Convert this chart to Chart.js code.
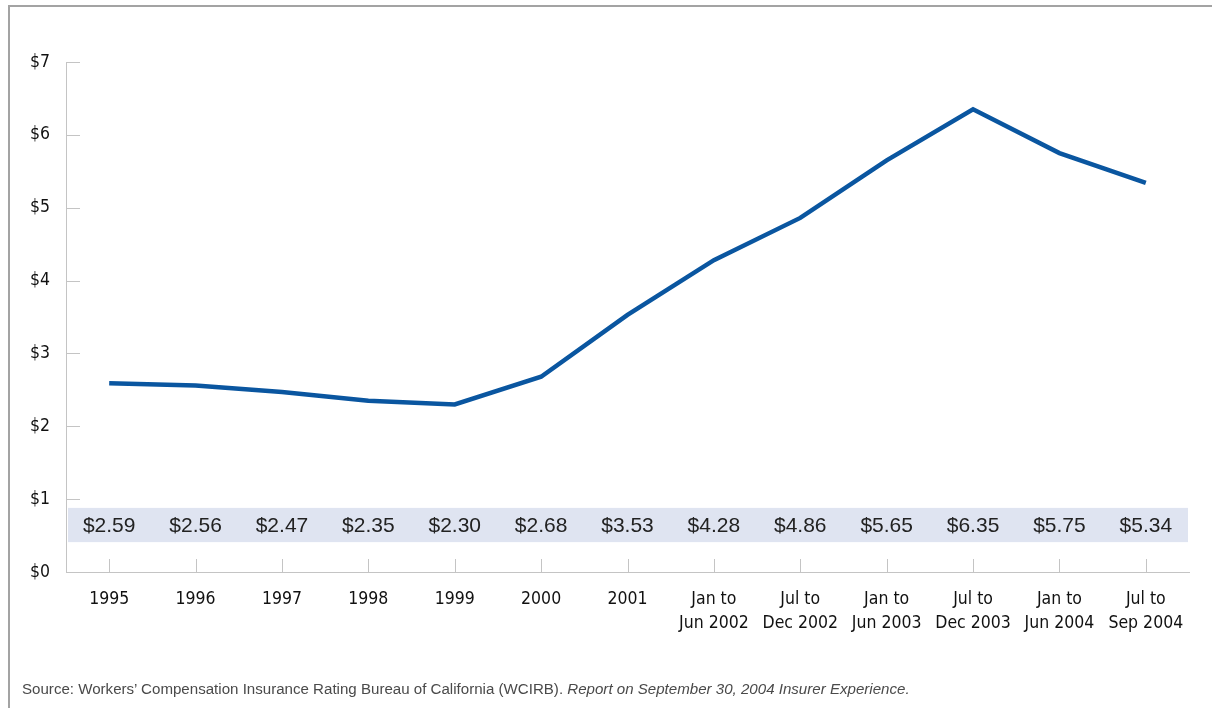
<!DOCTYPE html>
<html>
<head>
<meta charset="utf-8">
<script src="https://cdn.jsdelivr.net/npm/chart.js@4.4.0/dist/chart.umd.min.js"></script>
<style>
    body { margin: 0; background: #fff; }
    #wrap { position: relative; width: 1212px; height: 708px; overflow: hidden; }
    #frame {
        position: absolute; left: 8px; top: 5px; width: 1210px; height: 710px;
        border-top: 2px solid #a3a3a3; border-left: 2px solid #a3a3a3;
    }
    #chart-box { position: absolute; left: 0; top: 0; width: 1212px; height: 708px; }
    #source {
        position: absolute; left: 22px; top: 680px;
        font-family: "Liberation Sans", Arial, sans-serif;
        font-size: 15.1px; color: #4a4a4a; white-space: nowrap;
    }
</style>
</head>
<body>
<div id="wrap">
    <div id="frame"></div>
    <div id="chart-box"><canvas id="cost-chart"></canvas></div>
    <div id="source">Source: Workers’ Compensation Insurance Rating Bureau of California (WCIRB). <i>Report on September 30, 2004 Insurer Experience.</i></div>
</div>
<script>
const periods = [
    "1995",
    "1996",
    "1997",
    "1998",
    "1999",
    "2000",
    "2001",
    ["Jan to", "Jun 2002"],
    ["Jul to", "Dec 2002"],
    ["Jan to", "Jun 2003"],
    ["Jul to", "Dec 2003"],
    ["Jan to", "Jun 2004"],
    ["Jul to", "Sep 2004"],
];
const costs = [2.59, 2.56, 2.47, 2.35, 2.30, 2.68, 3.53, 4.28, 4.86, 5.65, 6.35, 5.75, 5.34];
const yTicks = [0, 1, 2, 3, 4, 5, 6, 7];

const axisColor = "#c4c4c4";
const narrowFont = "'DejaVu Sans Condensed', 'Liberation Sans Narrow', sans-serif";

// short tick marks pointing into the plot, plus the shaded strip of values
const extras = {
    id: "extras",
    beforeDatasetsDraw(chart) {
        const { ctx, chartArea, scales } = chart;
        const x = scales.x;
        const y = scales.y;
        ctx.save();

        const top = y.getPixelForValue(0.88);
        const bottom = y.getPixelForValue(0.41);
        ctx.fillStyle = "#dfe4f1";
        ctx.fillRect(chartArea.left + 2, top, chartArea.width - 3, bottom - top);

        ctx.strokeStyle = axisColor;
        ctx.lineWidth = 1;
        yTicks.forEach((v) => {
            if (v === 0) return;
            const py = Math.round(y.getPixelForValue(v)) + 0.5;
            ctx.beginPath();
            ctx.moveTo(chartArea.left, py);
            ctx.lineTo(chartArea.left + 14, py);
            ctx.stroke();
        });
        periods.forEach((p, i) => {
            const px = Math.round(x.getPixelForValue(i)) + 0.5;
            ctx.beginPath();
            ctx.moveTo(px, chartArea.bottom);
            ctx.lineTo(px, chartArea.bottom - 13);
            ctx.stroke();
        });

        ctx.fillStyle = "#222";
        ctx.font = "21px 'Liberation Sans', Arial, sans-serif";
        ctx.textAlign = "center";
        ctx.textBaseline = "middle";
        const mid = y.getPixelForValue(0.645);
        costs.forEach((c, i) => {
            ctx.fillText("$" + c.toFixed(2), x.getPixelForValue(i), mid + 1);
        });
        ctx.restore();
    },
};

const data = {
    labels: periods,
    datasets: [
        {
            label: "Cost",
            data: costs,
            borderColor: "#0a56a0",
            borderWidth: 4.5,
            pointRadius: 0,
            fill: false,
            tension: 0,
            borderJoinStyle: "miter",
        },
    ],
};

const config = {
    type: "line",
    data,
    plugins: [extras],
    options: {
        responsive: true,
        maintainAspectRatio: false,
        animation: false,
        layout: { padding: { top: 62, right: 23, left: 0, bottom: 0 } },
        plugins: {
            legend: { display: false },
            tooltip: { enabled: false },
        },
        scales: {
            x: {
                offset: true,
                grid: { display: false, drawTicks: false, offset: true },
                border: { display: true, color: axisColor, width: 1 },
                ticks: {
                    padding: 15,
                    color: "#111",
                    maxRotation: 0,
                    autoSkip: false,
                    font: { family: narrowFont, size: 17.5, lineHeight: 1.37 },
                },
                afterFit(scale) {
                    scale.height = 136;
                },
            },
            y: {
                min: 0,
                max: 7,
                grid: { display: false, drawTicks: false },
                border: { display: true, color: axisColor, width: 1 },
                ticks: {
                    stepSize: 1,
                    padding: 16,
                    color: "#111",
                    font: { family: narrowFont, size: 17.5 },
                    callback: (v) => "$" + v,
                },
                afterFit(scale) {
                    scale.width = 66;
                },
            },
        },
    },
};

new Chart(document.getElementById("cost-chart"), config);
</script>
</body>
</html>
